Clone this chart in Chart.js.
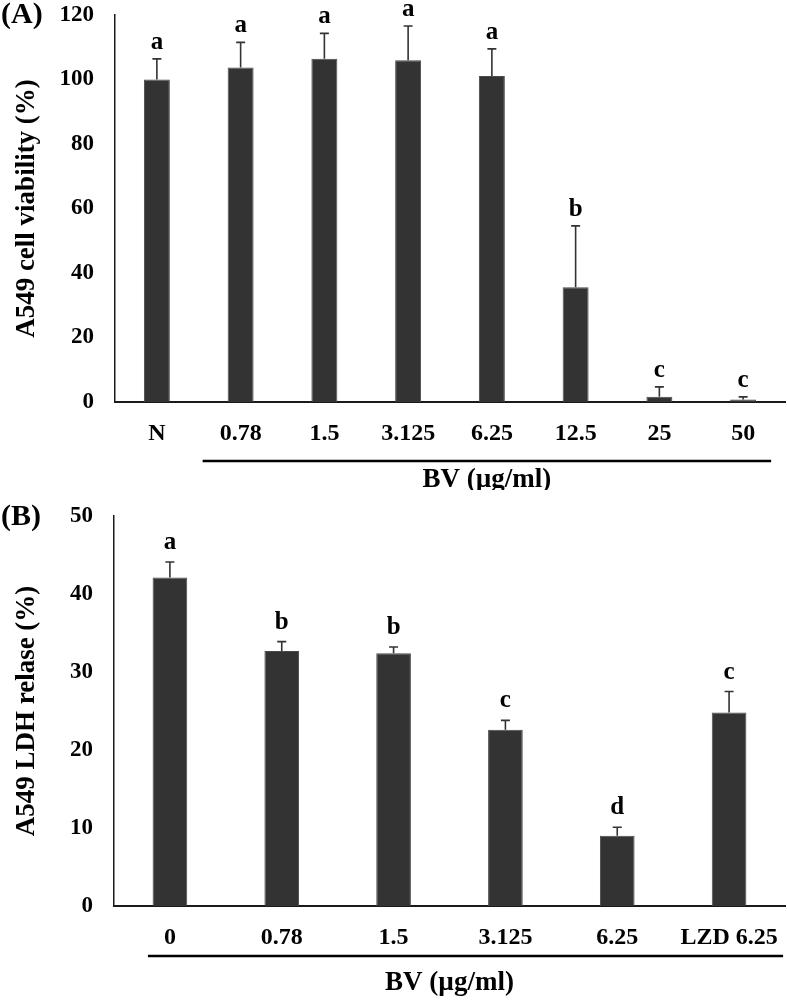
<!DOCTYPE html>
<html>
<head>
<meta charset="utf-8">
<script src="https://cdn.jsdelivr.net/npm/chart.js@4/dist/chart.umd.min.js"></script>
<style>
  body { margin: 0; background: #fff; }
  .panel { position: absolute; left: 0; }
</style>
</head>
<body>
<div class="panel" style="top:0"><canvas id="chartA" width="787" height="490"></canvas></div>
<div class="panel" style="top:490px"><canvas id="chartB" width="787" height="514"></canvas></div>
<script>
// Panel A: cell viability
const labelsA = ['N', '0.78', '1.5', '3.125', '6.25', '12.5', '25', '50'];
const viability = [100, 103.7, 106.4, 106, 101.1, 35.6, 1.6, 0.8];
const viabilityErr = [6.4, 7.8, 7.9, 10.6, 8.4, 19, 3.1, 0.8];
const lettersA = ['a', 'a', 'a', 'a', 'a', 'b', 'c', 'c'];

// Panel B: LDH release
const labelsB = ['0', '0.78', '1.5', '3.125', '6.25', 'LZD 6.25'];
const ldh = [42.1, 32.7, 32.4, 22.6, 9.0, 24.8];
const ldhErr = [2.0, 1.2, 0.8, 1.2, 1.1, 2.7];
const lettersB = ['a', 'b', 'b', 'c', 'd', 'c'];

const serif = "'Liberation Serif', 'Times New Roman', serif";
const ink = '#1a1a1a';
const barColor = '#333333';

// error bars (upper only) + significance letters
const errorBars = {
    id: 'errorBars',
    afterDatasetsDraw(chart, args, opts) {
        const { ctx, scales: { y } } = chart;
        const bars = chart.getDatasetMeta(0).data;
        const values = chart.data.datasets[0].data;
        ctx.save();
        ctx.strokeStyle = barColor;
        ctx.lineWidth = 1.6;
        bars.forEach((bar, i) => {
            const yTop = y.getPixelForValue(values[i] + opts.err[i]);
            const yBar = y.getPixelForValue(values[i]);
            ctx.beginPath();
            ctx.moveTo(bar.x, yBar);
            ctx.lineTo(bar.x, yTop);
            ctx.moveTo(bar.x - 4.5, yTop);
            ctx.lineTo(bar.x + 4.5, yTop);
            ctx.stroke();
            ctx.fillStyle = '#000';
            ctx.font = 'bold 25px ' + serif;
            ctx.textAlign = 'center';
            ctx.textBaseline = 'alphabetic';
            ctx.fillText(opts.letters[i], bar.x, yTop - opts.gap);
        });
        ctx.restore();
    }
};

// bracket under the BV doses, its caption and the panel tag
const decorations = {
    id: 'decorations',
    afterDraw(chart, args, opts) {
        const { ctx, chartArea, scales: { x } } = chart;
        const x0 = x.getPixelForValue(opts.from) + opts.fromOffset;
        const x1 = x.getPixelForValue(opts.to) + opts.toOffset;
        const yLine = chartArea.bottom + opts.lineGap;
        ctx.save();
        ctx.strokeStyle = '#000';
        ctx.lineWidth = 2.5;
        ctx.beginPath();
        ctx.moveTo(x0, yLine);
        ctx.lineTo(x1, yLine);
        ctx.stroke();
        ctx.fillStyle = '#000';
        ctx.font = 'bold 27px ' + serif;
        ctx.textAlign = 'center';
        ctx.textBaseline = 'middle';
        const cx = opts.centerOnArea ? (chartArea.left + chartArea.right) / 2 : (x0 + x1) / 2;
        ctx.fillText('BV (\u00b5g/ml)', cx, chartArea.bottom + opts.captionGap);
        ctx.textAlign = 'left';
        ctx.font = 'bold 30px ' + serif;
        ctx.fillText(opts.tag, 1, opts.tagY);
        ctx.restore();
    }
};

function makePanel(canvasId, labels, values, err, letters, yTitle, yMax, yStep, layout) {
    return new Chart(document.getElementById(canvasId), {
        type: 'bar',
        data: {
            labels: labels,
            datasets: [{
                data: values,
                backgroundColor: barColor,
                borderColor: '#4a4a4a',
                borderWidth: 1,
                barPercentage: 0.31,
                categoryPercentage: 1.0
            }]
        },
        options: {
            responsive: false,
            animation: false,
            devicePixelRatio: 1,
            layout: { padding: { top: layout.top, right: 2, left: 0, bottom: 0 } },
            plugins: {
                legend: { display: false },
                tooltip: { enabled: false },
                errorBars: { err: err, letters: letters, gap: layout.letterGap },
                decorations: layout.deco
            },
            scales: {
                x: {
                    grid: { display: false, drawTicks: false },
                    border: { display: true, color: ink, width: 2 },
                    ticks: {
                        color: '#000',
                        padding: 17,
                        font: { family: serif, size: 24, weight: 'bold' },
                        maxRotation: 0,
                        autoSkip: false
                    },
                    afterFit(scale) {
                        scale.height = layout.xHeight;
                        scale.paddingLeft = 0;
                        scale.paddingRight = 0;
                    }
                },
                y: {
                    min: 0,
                    max: yMax,
                    grid: { display: false, drawTicks: false },
                    border: { display: true, color: ink, width: 1.5 },
                    ticks: {
                        stepSize: yStep,
                        color: '#000',
                        padding: 21,
                        font: { family: serif, size: 23, weight: 'bold' }
                    },
                    title: {
                        display: true,
                        text: yTitle,
                        color: '#000',
                        padding: { top: 11, bottom: 0 },
                        font: { family: serif, size: 27, weight: 'bold' }
                    },
                    afterFit(scale) {
                        scale.width = layout.yWidth;
                        scale.paddingTop = 0;
                        scale.paddingBottom = 0;
                    }
                }
            }
        },
        plugins: [errorBars, decorations]
    });
}

makePanel('chartA', labelsA, viability, viabilityErr, lettersA,
    'A549 cell viability (%)', 120, 20, {
        top: 15, xHeight: 88, yWidth: 115, letterGap: 10,
        deco: { from: 1, fromOffset: -38, to: 7, toOffset: 28, lineGap: 59, captionGap: 78, centerOnArea: false, tag: '(A)', tagY: 15 }
    });

makePanel('chartB', labelsB, ldh, ldhErr, lettersB,
    'A549 LDH relase (%)', 50, 10, {
        top: 26, xHeight: 98, yWidth: 114, letterGap: 13,
        deco: { from: 0, fromOffset: -22, to: 5, toOffset: 54, lineGap: 50, captionGap: 77, centerOnArea: true, tag: '(B)', tagY: 27 }
    });
</script>
</body>
</html>
